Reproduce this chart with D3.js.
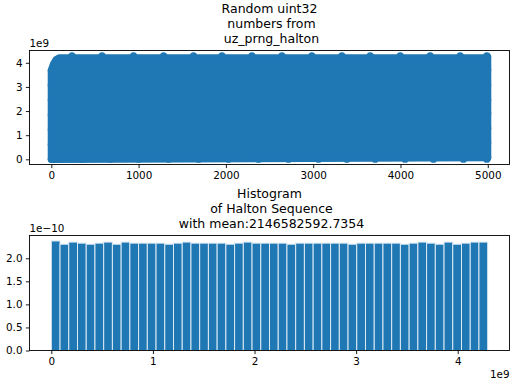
<!DOCTYPE html>
<html>
<head>
<meta charset="utf-8">
<script src="https://cdn.jsdelivr.net/npm/d3@7"></script>
<style>
  body { margin: 0; background: #fff; }
  svg { display: block; }
  text { font-family: "DejaVu Sans", sans-serif; fill: #000; }
</style>
</head>
<body>
<svg id="chart" width="512" height="384"></svg>
<script>
// ---- data ----
// top plot: 5000 uint32 values (index 0..4999), shown as a dense cloud of markers
var sampleIndexRange = [0, 4999];
var uintRange = [0, 4294967295];
// markers that poke out of the cloud on each edge
var topEdgeIdx = [237, 581, 942, 1286, 1629, 1955, 2298, 2642, 2985, 3329, 3653, 3997, 4340, 4684, 4989];
var bottomEdgeIdx = [26, 352, 676, 1000, 1343, 1687, 2030, 2374, 2717, 3061, 3386, 3710, 4053, 4378, 4721, 4989];
var leftEdgeVals = [0.0, 0.614e9, 1.227e9, 1.841e9, 2.454e9, 3.068e9, 3.681e9];
var rightEdgeVals = [4.25e9, 3.70e9, 3.08e9, 2.46e9, 1.91e9, 1.29e9, 0.70e9, 0.08e9];
var edgeHigh = 4.29e9, edgeLow = 0.005e9;
// cloud outline (index, value)
var outlineIdx = [0, 0, 25, 55, 95, 4999, 4999, 0];
var outlineVal = [0.0, 3.681e9, 3.95e9, 4.13e9, 4.21e9, 4.21e9, 0.07e9, 0.0];

// bottom plot: 50-bin density histogram, heights in units of 1e-10
var binCount = 50;
var histDensity = [
  2.375, 2.305, 2.351, 2.328, 2.305, 2.328, 2.351, 2.305, 2.351, 2.328,
  2.328, 2.328, 2.328, 2.305, 2.328, 2.351, 2.328, 2.328, 2.328, 2.328,
  2.305, 2.328, 2.351, 2.328, 2.328, 2.328, 2.328, 2.305, 2.328, 2.328,
  2.328, 2.328, 2.328, 2.328, 2.305, 2.328, 2.328, 2.328, 2.328, 2.328,
  2.305, 2.328, 2.351, 2.328, 2.305, 2.351, 2.305, 2.328, 2.351, 2.351
];
var histMean = "2146582592.7354";

var topTitle = ["Random uint32", " numbers from", " uz_prng_halton"];
var bottomTitle = ["Histogram", " of Halton Sequence", " with mean:" + histMean];
var topXTicks = [0, 1000, 2000, 3000, 4000, 5000];
var topYTicks = [0, 1e9, 2e9, 3e9, 4e9];
var bottomXTicks = [0, 1e9, 2e9, 3e9, 4e9];
var bottomYTicks = [0, 0.5e-10, 1e-10, 1.5e-10, 2e-10];

var blue = "#1f77b4";
var tickFont = 10.4, titleFont = 12.5, tickLen = 3.6;

var svg = d3.select("#chart");

var pad = function (ext) {
  var m = (ext[1] - ext[0]) * 0.05;
  return [ext[0] - m, ext[1] + m];
};

function drawAxes(box, x, y, xTicks, yTicks, xFmt, yFmt) {
  var g = svg.append("g");
  var ax = g.append("g")
      .attr("transform", "translate(0," + box.b + ")")
      .call(d3.axisBottom(x).tickValues(xTicks).tickFormat(xFmt)
              .tickSizeOuter(0).tickSize(tickLen).tickPadding(3.4));
  var ay = g.append("g")
      .attr("transform", "translate(" + box.l + ",0)")
      .call(d3.axisLeft(y).tickValues(yTicks).tickFormat(yFmt)
              .tickSizeOuter(0).tickSize(tickLen).tickPadding(3.4));
  [ax, ay].forEach(function (a) {
    a.select(".domain").remove();
    a.selectAll("line").attr("stroke", "#000").attr("stroke-width", 0.9);
    a.selectAll("text").style("font-size", tickFont + "px")
        .style("font-family", "DejaVu Sans").attr("fill", "#000");
  });
  g.append("rect")
      .attr("x", box.l).attr("y", box.t)
      .attr("width", box.r - box.l).attr("height", box.b - box.t)
      .attr("fill", "none").attr("stroke", "#000").attr("stroke-width", 0.9);
}

function drawTitle(lines, cx, firstBaseline) {
  svg.append("text")
      .attr("text-anchor", "middle")
      .style("font-size", titleFont + "px")
      .style("white-space", "pre")
    .selectAll("tspan")
    .data(lines)
    .join("tspan")
      .attr("x", cx)
      .attr("y", function (d, i) { return firstBaseline + i * 15; })
      .text(function (d) { return d; });
}

// ---------- top: the sequence ----------
var seqBox = { l: 29.5, r: 509.5, t: 50.5, b: 164.5 };
var x1 = d3.scaleLinear().domain(pad(sampleIndexRange)).range([seqBox.l, seqBox.r]);
var y1 = d3.scaleLinear().domain(pad(uintRange)).range([seqBox.b, seqBox.t]);
var r = 3.6;

var cloud = svg.append("g");
var outline = d3.range(outlineIdx.length).map(function (i) { return [outlineIdx[i], outlineVal[i]]; });
cloud.append("path")
    .attr("d", d3.line().x(function (d) { return x1(d[0]); }).y(function (d) { return y1(d[1]); })(outline) + "Z")
    .attr("fill", blue).attr("stroke", blue)
    .attr("stroke-width", 2 * r).attr("stroke-linejoin", "round");

var edgePts = []
  .concat(topEdgeIdx.map(function (i) { return [i, edgeHigh]; }))
  .concat(bottomEdgeIdx.map(function (i) { return [i, edgeLow]; }))
  .concat(leftEdgeVals.map(function (v) { return [0, v]; }))
  .concat(rightEdgeVals.map(function (v) { return [4999, v]; }));
cloud.selectAll("circle")
    .data(edgePts)
    .join("circle")
      .attr("cx", function (d) { return x1(d[0]); })
      .attr("cy", function (d) { return y1(d[1]); })
      .attr("r", r)
      .attr("fill", blue);

drawAxes(seqBox, x1, y1, topXTicks, topYTicks, d3.format("d"), function (v) { return v / 1e9; });
svg.append("text").attr("x", seqBox.l).attr("y", 46.5)
    .style("font-size", tickFont + "px").text("1e9");
drawTitle(topTitle, (seqBox.l + seqBox.r) / 2, 12.7);

// ---------- bottom: histogram ----------
var histBox = { l: 29.5, r: 509.5, t: 235.5, b: 350.5 };
var x2 = d3.scaleLinear().domain(pad(uintRange)).range([histBox.l, histBox.r]);
var y2 = d3.scaleLinear().domain([0, d3.max(histDensity) * 1e-10 * 1.05]).range([histBox.b, histBox.t]);
var binW = (uintRange[1] - uintRange[0]) / binCount;

svg.append("g").selectAll("rect")
    .data(histDensity)
    .join("rect")
      .attr("x", function (d, i) { return x2(uintRange[0] + i * binW); })
      .attr("width", function (d, i) { return x2(uintRange[0] + (i + 1) * binW) - x2(uintRange[0] + i * binW); })
      .attr("y", function (d) { return y2(d * 1e-10); })
      .attr("height", function (d) { return y2(0) - y2(d * 1e-10); })
      .attr("fill", blue)
      .attr("stroke", "#dce9f4")
      .attr("stroke-width", 1);

drawAxes(histBox, x2, y2, bottomXTicks, bottomYTicks,
  function (v) { return v / 1e9; },
  function (v) { return (v / 1e-10).toFixed(1); });
svg.append("text").attr("x", histBox.l).attr("y", 231.7)
    .style("font-size", tickFont + "px").text("1e\u221210");
svg.append("text").attr("x", histBox.r).attr("y", 378.3)
    .attr("text-anchor", "end")
    .style("font-size", tickFont + "px").text("1e9");
drawTitle(bottomTitle, (histBox.l + histBox.r) / 2, 198.3);
</script>
</body>
</html>
